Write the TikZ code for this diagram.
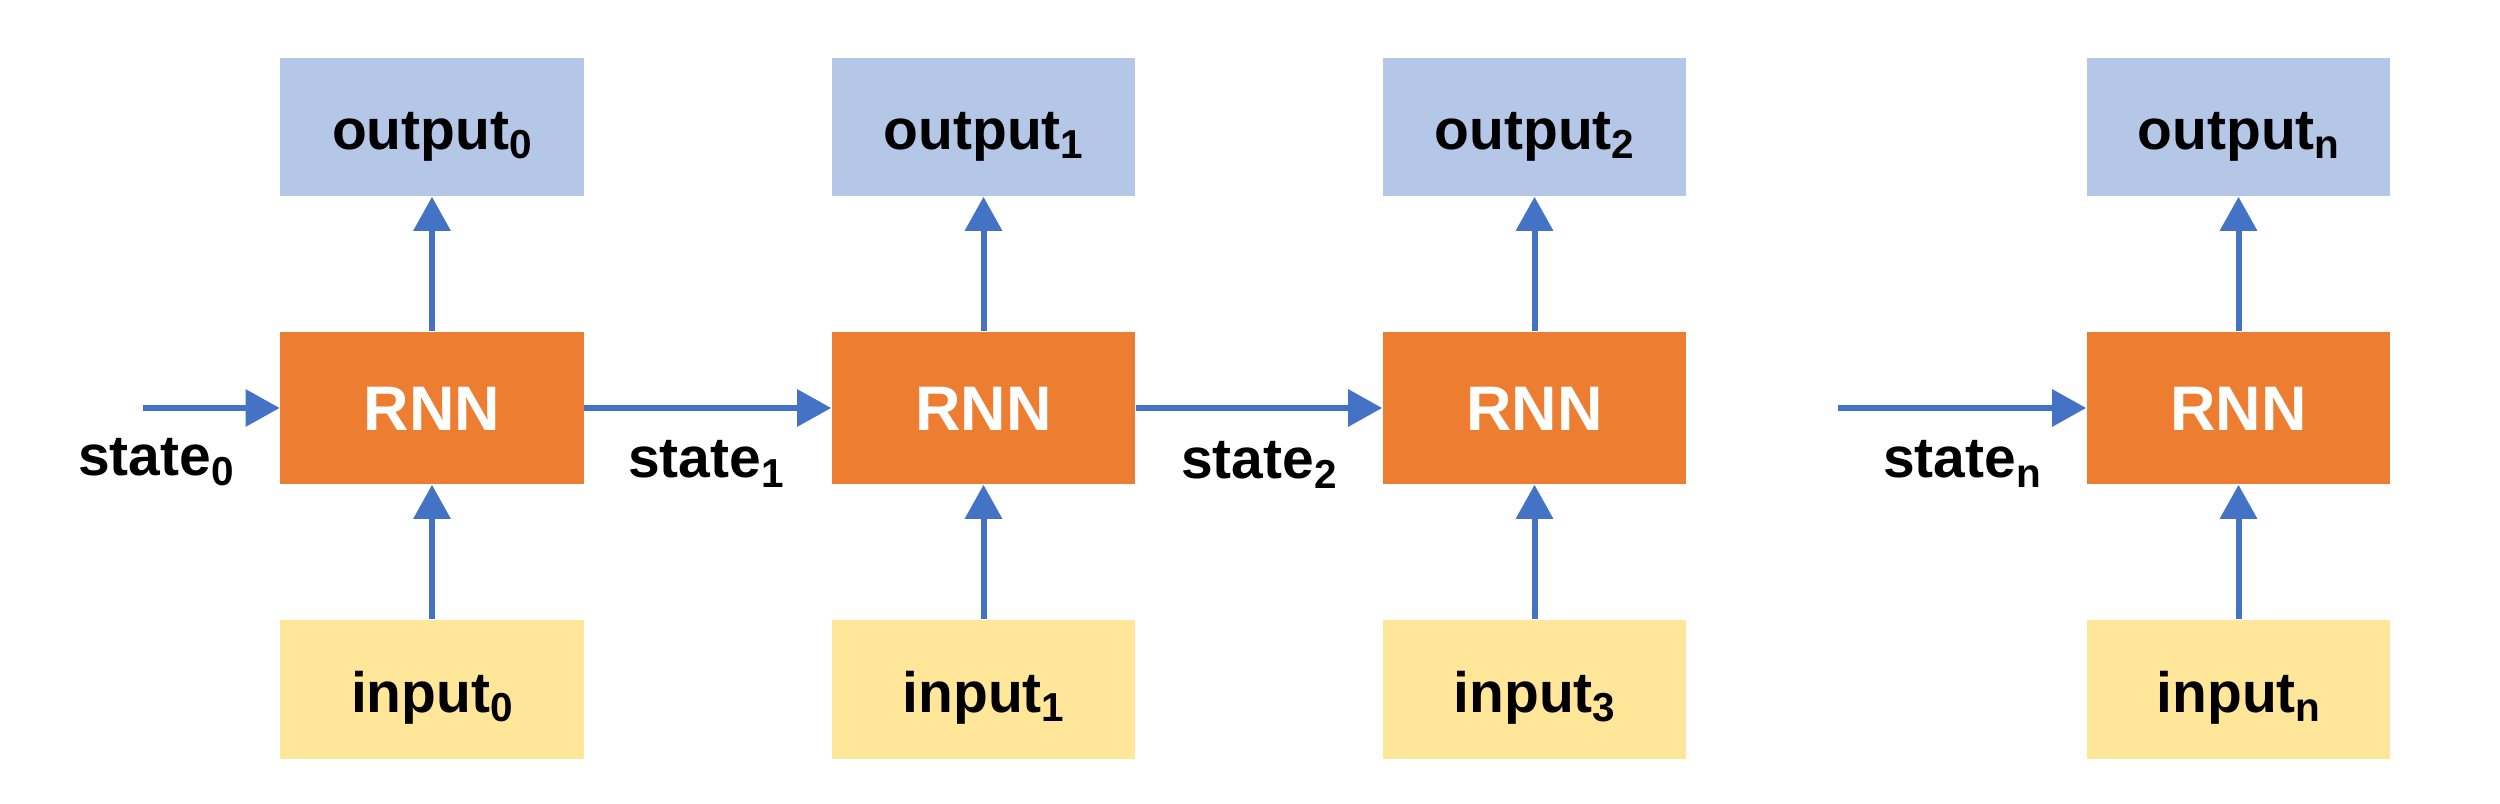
\documentclass[tikz,border=0pt]{standalone}
\usepackage{fontspec}
\setmainfont{Liberation Sans}
\usetikzlibrary{arrows.meta}
\definecolor{outblue}{HTML}{B4C7E7}
\definecolor{rnnorange}{HTML}{ED7D31}
\definecolor{inyellow}{HTML}{FFE699}
\definecolor{arrowblue}{HTML}{4472C4}
\newcommand{\sbs}[1]{\raisebox{-2.6pt}{\fontsize{11.5}{12}\selectfont #1}}
\tikzset{
  box/.style={rectangle, inner sep=0pt, minimum width=3.03cm, font=\fontsize{16.2}{18}\selectfont\bfseries, text=black},
  outbox/.style={box, fill=outblue, minimum height=1.38cm, text height=0.45cm, text depth=0cm},
  inbox/.style={box, fill=inyellow, minimum height=1.39cm, text height=0.45cm, text depth=0cm},
  rnnbox/.style={box, fill=rnnorange, minimum height=1.52cm, text height=0.44cm, text depth=0cm, text=white, font=\fontsize{17.9}{20}\selectfont\bfseries},
  statelbl/.style={anchor=base, inner sep=0pt, font=\fontsize{16.2}{18}\selectfont\bfseries},
  arr/.style={draw=arrowblue, line width=0.06cm, -{Triangle[length=0.34cm,width=0.36cm]}}
}
\begin{document}
\begin{tikzpicture}[x=0.01cm, y=-0.01cm]
\useasboundingbox (0,0) rectangle (2500,804);
% column 0
\node[outbox] (o0) at (432,127) {output\sbs{0}};
\node[rnnbox] (r0) at (432,408) {RNN};
\node[inbox] (i0) at (432,689.5) {input\sbs{0}};
% column 1
\node[outbox] (o1) at (983.5,127) {output\sbs{1}};
\node[rnnbox] (r1) at (983.5,408) {RNN};
\node[inbox] (i1) at (983.5,689.5) {input\sbs{1}};
% column 2
\node[outbox] (o2) at (1534.5,127) {output\sbs{2}};
\node[rnnbox] (r2) at (1534.5,408) {RNN};
\node[inbox] (i2) at (1534.5,689.5) {input\sbs{3}};
% column n
\node[outbox] (o3) at (2238.5,127) {output\sbs{n}};
\node[rnnbox] (r3) at (2238.5,408) {RNN};
\node[inbox] (i3) at (2238.5,689.5) {input\sbs{n}};
% state labels
\node[statelbl] (s0) at (156,476) {state\sbs{0}};
\node[statelbl] (s1) at (706,478) {state\sbs{1}};
\node[statelbl] (s2) at (1259,479) {state\sbs{2}};
\node[statelbl] (sn) at (1962,478) {state\sbs{n}};
% free ends
\coordinate (st0) at (143,408);
\coordinate (stn) at (1838,408);
% arrows
\foreach \k in {0,1,2,3} {
  \draw[arr] (r\k.north) -- (o\k.south);
  \draw[arr] (i\k.north) -- (r\k.south);
}
\draw[arr] (st0) -- (r0.west);
\draw[arr] (r0.east) -- (r1.west);
\draw[arr] (r1.east) -- (r2.west);
\draw[arr] (stn) -- (r3.west);
\end{tikzpicture}
\end{document}
